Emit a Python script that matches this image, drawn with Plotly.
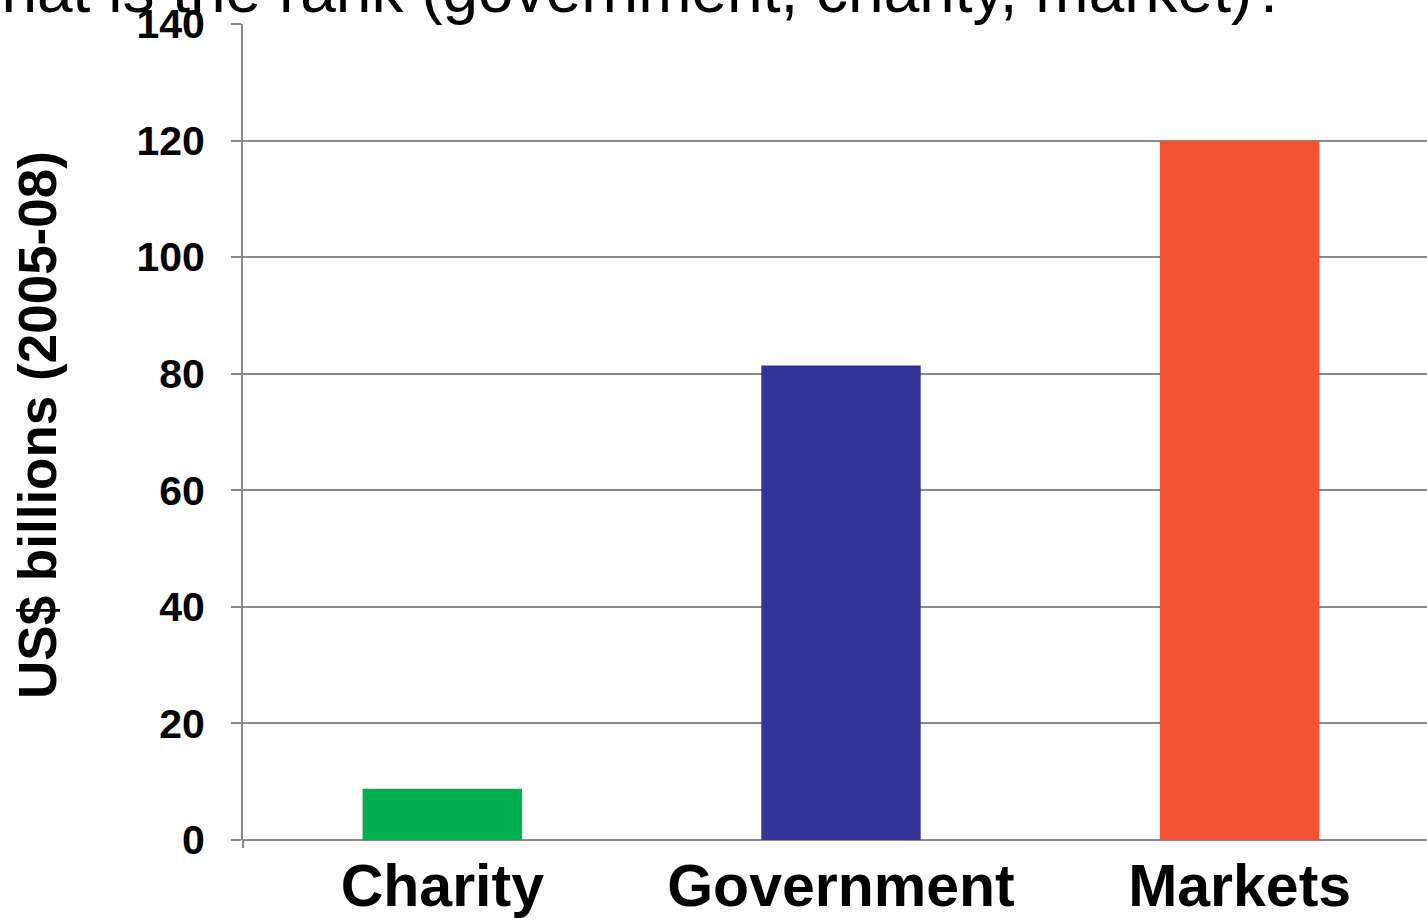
import plotly.graph_objects as go

# Funding sources, US$ billions (2005-08)
categories = ["Charity", "Government", "Markets"]
values = [8.8, 81.4, 120]
bar_colors = ["#00B050", "#353599", "#F25133"]

y_ticks = [0, 20, 40, 60, 80, 100, 120, 140]

W, H = 1427, 918
ML, MR, MT, MB = 243, 0, 24, 78
plot_w = W - ML - MR
plot_h = H - MT - MB

def px_to_paper_x(px):
    return (px - ML) / plot_w

def px_to_paper_y(py):
    return (H - MB - py) / plot_h

FONT = "Liberation Sans, Arial, sans-serif"
GRID = "#8A8A8A"

fig = go.Figure(
    go.Bar(
        x=categories,
        y=values,
        marker=dict(color=bar_colors, line=dict(width=0)),
        width=0.4,
    )
)

fig.update_layout(
    width=W,
    height=H,
    margin=dict(l=ML, r=MR, t=MT, b=MB),
    paper_bgcolor="white",
    plot_bgcolor="white",
    showlegend=False,
)

fig.update_xaxes(
    range=[-0.5, 2.47],
    showgrid=False,
    showline=False,
    ticks="",
    tickfont=dict(family=FONT, size=59, color="black", weight="bold"),
    ticklabelstandoff=6,
)

fig.update_yaxes(
    range=[0, 140],
    tickvals=y_ticks,
    showgrid=True,
    gridcolor=GRID,
    gridwidth=2,
    zeroline=True,
    zerolinecolor=GRID,
    zerolinewidth=2,
    showline=True,
    linecolor=GRID,
    linewidth=2,
    ticks="outside",
    ticklen=10,
    tickwidth=2,
    tickcolor=GRID,
    tickfont=dict(family=FONT, size=41, color="black", weight="bold"),
    ticklabelstandoff=18,
)

# y-axis title
fig.add_annotation(
    text="US$ billions (2005-08)",
    xref="paper", yref="paper",
    x=px_to_paper_x(37), y=px_to_paper_y(425),
    xanchor="center", yanchor="middle",
    textangle=-90,
    showarrow=False,
    font=dict(family=FONT, size=53, color="black", weight="bold"),
)

# question heading running off the top of the page
fig.add_annotation(
    text="What is the rank (government, charity, market)?",
    xref="paper", yref="paper",
    x=px_to_paper_x(-61), y=px_to_paper_y(-10),
    xanchor="left", yanchor="middle",
    showarrow=False,
    font=dict(family=FONT, size=64, color="black"),
)

# small stub of the value axis below the baseline
fig.add_shape(
    type="line", xref="paper", yref="paper",
    x0=0, x1=0, y0=0, y1=px_to_paper_y(H - MB + 8),
    line=dict(color=GRID, width=2),
)

fig.write_html("out.html")
